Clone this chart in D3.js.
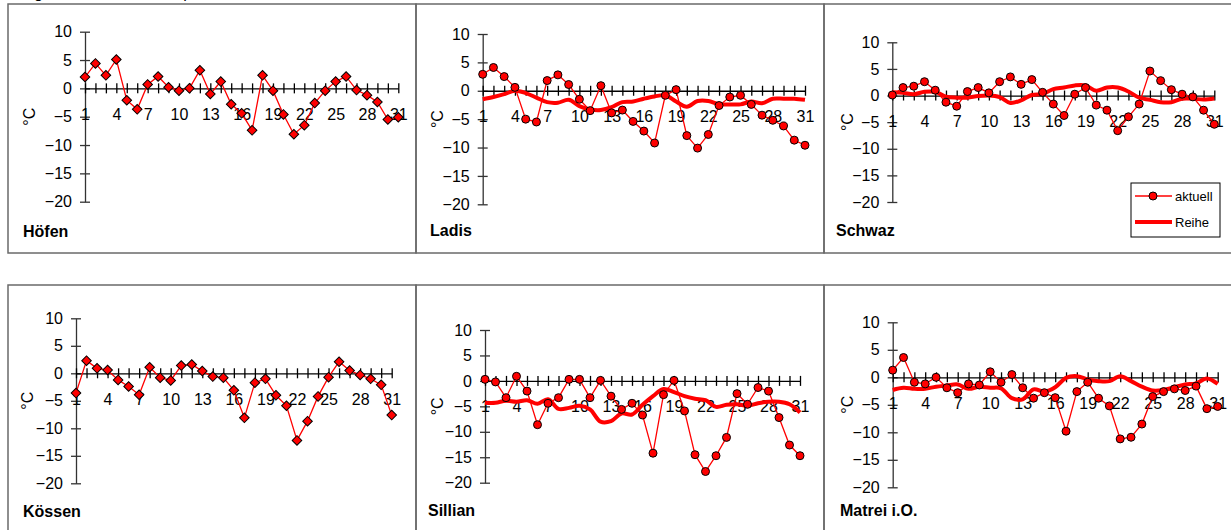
<!DOCTYPE html>
<html>
<head>
<meta charset="utf-8">
<title>Tagesmitteltemperaturen</title>
<script src="https://cdn.jsdelivr.net/npm/d3@7"></script>
<style>
  body { margin: 0; background: #fff; }
  svg { display: block; font-family: "Liberation Sans", Arial, sans-serif; }
</style>
</head>
<body>
<script>
  // Tage des Monats (Kategorien)
  const days = [1, 2, 3, 4, 5, 6, 7, 8, 9, 10, 11, 12, 13, 14, 15, 16,
    17, 18, 19, 20, 21, 22, 23, 24, 25, 26, 27, 28, 29, 30, 31];
  const yTicks = [10, 5, 0, -5, -10, -15, -20];

  // Tagesmittel aktuell
  const hoefenAktuell = [2.0, 4.4, 2.3, 5.1, -2.1, -3.7, 0.7, 2.1, 0.2, -0.4, 0.0, 3.2, -1.0, 1.2, -2.8, -4.4,
    -7.4, 2.3, -0.4, -4.6, -8.1, -6.5, -2.6, -0.4, 1.2, 2.1, -0.3, -1.2, -2.4, -5.5, -5.1];
  const ladisAktuell = [2.9, 4.1, 2.5, 0.6, -5.0, -5.5, 1.8, 2.8, 1.1, -1.5, -3.5, 0.9, -3.9, -3.4, -5.4, -7.1,
    -9.2, -0.8, 0.2, -7.9, -10.1, -7.7, -2.6, -1.1, -0.8, -2.4, -4.3, -5.2, -6.2, -8.7, -9.6];
  const schwazAktuell = [0.1, 1.5, 1.75, 2.6, 1.0, -1.25, -2.0, 0.75, 1.5, 0.5, 2.6, 3.5, 2.1, 3.0, 0.6, -1.6,
    -3.75, 0.25, 1.5, -1.8, -2.75, -6.6, -4.0, -1.6, 4.6, 2.8, 1.1, 0.25, -0.25, -2.75, -5.4];
  const koessenAktuell = [-3.6, 2.3, 0.9, 0.6, -1.2, -2.4, -3.9, 1.1, -0.8, -1.3, 1.4, 1.6, 0.4, -0.6, -0.8, -3.1,
    -8.1, -1.7, -1.0, -4.0, -5.9, -12.2, -8.7, -4.2, -0.7, 2.1, 0.5, -0.3, -1.0, -2.1, -7.6];
  const sillianAktuell = [0.3, -0.2, -3.3, 0.9, -2.0, -8.6, -4.4, -3.3, 0.3, 0.3, -3.3, 0.1, -3.0, -5.6, -4.4, -6.7,
    -14.2, -2.7, 0.1, -5.9, -14.5, -17.8, -14.7, -11.1, -2.5, -4.6, -1.3, -2.0, -7.2, -12.6, -14.7];
  const matreiAktuell = [1.3, 3.6, -0.9, -1.2, 0.0, -1.9, -2.8, -1.2, -1.4, 1.0, -0.9, 0.5, -1.9, -3.8, -2.8, -3.7,
    -9.8, -2.6, -0.9, -3.8, -5.2, -11.2, -10.9, -8.5, -3.5, -2.6, -2.1, -2.4, -1.6, -5.7, -5.3];

  // langjaehrige Reihe
  const ladisReihe = [-1.5, -1.1, -0.6, 0.0, -0.4, -1.2, -2.0, -2.1, -1.6, -2.7, -3.3, -3.4, -2.9, -2.0, -1.9, -1.4,
    -1.0, -0.8, -1.9, -2.8, -1.8, -1.8, -2.4, -2.4, -2.4, -1.9, -2.2, -1.4, -1.4, -1.4, -1.6];
  const schwazReihe = [0.6, 0.5, 0.25, 0.7, 0.7, -0.2, -0.4, -0.4, -0.1, 0.0, -0.3, -1.4, -0.9, 0.1, 0.3, 1.2,
    1.5, 1.9, 1.9, 0.9, 1.5, 1.5, 0.75, -0.4, -0.8, -1.25, -1.25, -0.6, -0.6, -0.75, -0.55];
  const sillianReihe = [-4.3, -4.3, -3.9, -4.1, -3.8, -4.5, -3.6, -5.5, -5.3, -4.9, -5.6, -8.0, -7.9, -6.4, -6.6, -4.7,
    -3.0, -1.6, -2.2, -3.0, -3.5, -3.8, -5.1, -4.7, -4.6, -4.9, -4.4, -4.1, -4.1, -4.6, -6.2];
  const matreiReihe = [-2.3, -1.9, -2.1, -2.1, -1.7, -1.5, -1.3, -2.1, -1.7, -1.9, -2.0, -3.8, -4.0, -2.2, -2.6, -1.8,
    -0.1, 0.2, -0.4, -0.7, -0.7, 0.2, -0.7, -1.7, -2.4, -2.3, -1.8, -1.3, -1.1, -0.2, -1.2];

  // Panels: Lage der Achsen im Bild
  const panels = [
    { name: "Höfen", akt: hoefenAktuell, reihe: null, marker: "diamond",
      ax: 85, ax31: 398.3, y10: 31.7, y20: 201.7, tx: 29, lx: 23, ly: 237 },
    { name: "Ladis", akt: ladisAktuell, reihe: ladisReihe, marker: "circle",
      ax: 482.7, ax31: 805, y10: 34, y20: 204.3, tx: 437, lx: 430, ly: 236 },
    { name: "Schwaz", akt: schwazAktuell, reihe: schwazReihe, marker: "circle",
      ax: 892.3, ax31: 1214.3, y10: 42.3, y20: 202, tx: 847, lx: 836, ly: 236 },
    { name: "Kössen", akt: koessenAktuell, reihe: null, marker: "diamond",
      ax: 76, ax31: 391.7, y10: 318.3, y20: 483.3, tx: 27, lx: 23, ly: 517 },
    { name: "Sillian", akt: sillianAktuell, reihe: sillianReihe, marker: "circle",
      ax: 485, ax31: 800, y10: 330, y20: 482.7, tx: 437, lx: 428, ly: 516 },
    { name: "Matrei i.O.", akt: matreiAktuell, reihe: matreiReihe, marker: "circle",
      ax: 892.7, ax31: 1217.7, y10: 322.3, y20: 487.3, tx: 847, lx: 840, ly: 516 }
  ];

  const svg = d3.select("body").append("svg")
    .attr("width", 1231)
    .attr("height", 530);

  // Titel (oben abgeschnitten wie im Original)
  svg.append("text")
    .attr("x", 17)
    .attr("y", -2)
    .attr("font-size", 16)
    .text("Tagesmittel der Lufttemperatur");

  // Rahmen
  const frames = [
    [8, 4, 408, 249], [416, 4, 408, 249], [824, 4, 420, 249],
    [8, 285, 408, 260], [416, 285, 408, 260], [824, 285, 420, 260]
  ];
  svg.selectAll("rect.frame")
    .data(frames)
    .enter()
    .append("rect")
    .attr("class", "frame")
    .attr("x", d => d[0])
    .attr("y", d => d[1])
    .attr("width", d => d[2])
    .attr("height", d => d[3])
    .attr("fill", "none")
    .attr("stroke", "#6a6a6a")
    .attr("stroke-width", 1.5);

  panels.forEach(function (p) {
    const x = d3.scaleLinear().domain([1, 31]).range([p.ax, p.ax31]);
    const y = d3.scaleLinear().domain([10, -20]).range([p.y10, p.y20]);
    const g = svg.append("g");

    // y-Achse
    const yAxis = g.append("g")
      .attr("transform", "translate(" + p.ax + ",0)")
      .call(d3.axisLeft(y).tickValues(yTicks).tickSize(5).tickSizeOuter(0).tickPadding(8));
    yAxis.selectAll(".tick line").attr("x1", -5).attr("x2", 5);
    yAxis.selectAll("line, path").attr("stroke", "#333").attr("stroke-width", 1.3);
    yAxis.selectAll("text")
      .attr("font-size", 16)
      .attr("fill", "#000")
      .attr("font-family", "Liberation Sans, Arial, sans-serif");

    // x-Achse bei 0
    const xAxis = g.append("g")
      .attr("transform", "translate(0," + y(0) + ")")
      .call(d3.axisBottom(x).tickValues(days).tickSize(5).tickSizeOuter(0).tickPadding(15)
        .tickFormat(d => (d - 1) % 3 === 0 ? d : ""));
    xAxis.selectAll(".tick line").attr("y1", -5).attr("y2", 5);
    xAxis.selectAll("line, path").attr("stroke", "#000").attr("stroke-width", 1.3);
    xAxis.selectAll("text")
      .attr("font-size", 16)
      .attr("fill", "#000")
      .attr("font-family", "Liberation Sans, Arial, sans-serif");

    // Achsentitel
    g.append("text")
      .attr("transform", "translate(" + p.tx + "," + ((p.y10 + p.y20) / 2) + ") rotate(-90)")
      .attr("text-anchor", "middle")
      .attr("dy", "0.35em")
      .attr("font-size", 16)
      .text("°C");

    // Reihe (dicke Linie)
    if (p.reihe) {
      g.append("path")
        .datum(p.reihe)
        .attr("fill", "none")
        .attr("stroke", "#ff0000")
        .attr("stroke-width", 4)
        .attr("stroke-linejoin", "round")
        .attr("d", d3.line()
          .x((d, i) => x(days[i]))
          .y(d => y(d))
          .curve(d3.curveCatmullRom.alpha(0.5)));
    }

    // aktuell
    g.append("path")
      .datum(p.akt)
      .attr("fill", "none")
      .attr("stroke", "#ff0000")
      .attr("stroke-width", 1.3)
      .attr("d", d3.line()
        .x((d, i) => x(days[i]))
        .y(d => y(d)));

    if (p.marker === "diamond") {
      g.selectAll("path.mk")
        .data(p.akt)
        .enter()
        .append("path")
        .attr("class", "mk")
        .attr("d", d3.symbol().type(d3.symbolSquare).size(46))
        .attr("transform", (d, i) => "translate(" + x(days[i]) + "," + y(d) + ") rotate(45)")
        .attr("fill", "#ff0000")
        .attr("stroke", "#000")
        .attr("stroke-width", 1);
    } else {
      g.selectAll("circle.mk")
        .data(p.akt)
        .enter()
        .append("circle")
        .attr("class", "mk")
        .attr("cx", (d, i) => x(days[i]))
        .attr("cy", d => y(d))
        .attr("r", 4)
        .attr("fill", "#ff0000")
        .attr("stroke", "#000")
        .attr("stroke-width", 1);
    }

    // Stationsname
    g.append("text")
      .attr("x", p.lx)
      .attr("y", p.ly)
      .attr("font-size", 16)
      .attr("font-weight", "bold")
      .text(p.name);
  });

  // Legende
  const lg = svg.append("g");
  lg.append("rect")
    .attr("x", 1131).attr("y", 183)
    .attr("width", 89).attr("height", 54)
    .attr("fill", "#fff")
    .attr("stroke", "#000")
    .attr("stroke-width", 1);
  lg.append("line")
    .attr("x1", 1135).attr("x2", 1172).attr("y1", 196).attr("y2", 196)
    .attr("stroke", "#ff0000").attr("stroke-width", 1.3);
  lg.append("circle")
    .attr("cx", 1153).attr("cy", 196).attr("r", 4)
    .attr("fill", "#ff0000").attr("stroke", "#000");
  lg.append("text")
    .attr("x", 1175).attr("y", 196).attr("dy", "0.35em")
    .attr("font-size", 13).text("aktuell");
  lg.append("line")
    .attr("x1", 1135).attr("x2", 1172).attr("y1", 222).attr("y2", 222)
    .attr("stroke", "#ff0000").attr("stroke-width", 4);
  lg.append("text")
    .attr("x", 1175).attr("y", 222).attr("dy", "0.35em")
    .attr("font-size", 13).text("Reihe");
</script>
</body>
</html>
